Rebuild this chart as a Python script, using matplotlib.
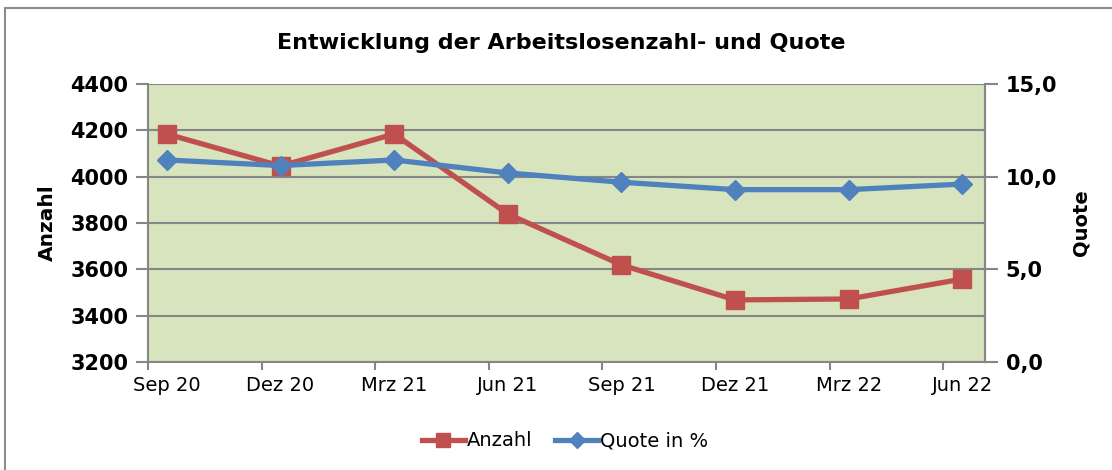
import matplotlib
matplotlib.use("Agg")
import matplotlib.pyplot as plt
from matplotlib.patches import Rectangle
from matplotlib.ticker import FixedLocator, FuncFormatter

categories = ["Sep 20", "Dez 20", "Mrz 21", "Jun 21", "Sep 21", "Dez 21", "Mrz 22", "Jun 22"]
anzahl = [4184, 4046, 4184, 3839, 3619, 3468, 3472, 3558]
quote = [10.9, 10.6, 10.9, 10.2, 9.7, 9.3, 9.3, 9.6]

# months since Sep 2020 (date axis): data mid-month, ticks at quarter starts
months = [3 * i + 0.5 for i in range(len(categories))]
tick_months = [3 * i for i in range(len(categories))]

RED = "#C0504D"
BLUE = "#4F81BD"
BG = "#D7E4BD"
GRID = "#868686"

plt.rcParams['font.family'] = ['DejaVu Sans']

fig = plt.figure(figsize=(11.12, 4.70), dpi=100)
fig.patches.append(Rectangle((5 / 1112, -0.1), 1.2, 1 - 8 / 470 + 0.1, transform=fig.transFigure,
                             fill=False, edgecolor="#8C8C8C", linewidth=1.5))

ax = fig.add_axes([148 / 1112, 1 - 362 / 470, (985 - 148) / 1112, (362 - 84) / 470])
ax.set_facecolor(BG)
ax.set_xlim(0, 22.1)
ax.set_ylim(3200, 4400)
ax.set_yticks([3200, 3400, 3600, 3800, 4000, 4200, 4400])
ax.yaxis.grid(True, color=GRID, linewidth=1.5)
ax.set_axisbelow(True)
ax.spines["top"].set_visible(False)
for s in ["left", "bottom", "right"]:
    ax.spines[s].set_color(GRID)
    ax.spines[s].set_linewidth(1.5)

ax.xaxis.set_major_locator(FixedLocator(tick_months))
ax.xaxis.set_major_formatter(FuncFormatter(lambda v, p: ""))
ax.xaxis.set_minor_locator(FixedLocator(months))
ax.set_xticklabels(categories, minor=True)
ax.tick_params(axis="x", which="major", length=6, width=1.5, color=GRID, direction="out")
ax.tick_params(axis="x", which="minor", length=0, labelsize=14, pad=10)
ax.tick_params(axis="y", length=9, width=1.5, color=GRID, labelsize=15, pad=5)
for t in ax.get_yticklabels():
    t.set_fontweight("bold")

ax.plot(months, anzahl, color=RED, linewidth=3.8, marker="s", markersize=13,
        markerfacecolor=RED, markeredgecolor=RED, label="Anzahl", zorder=3)

ax2 = ax.twinx()
ax2.set_ylim(0, 15)
ax2.set_yticks([0, 5, 10, 15])
ax2.yaxis.set_major_formatter(FuncFormatter(lambda v, p: f"{v:.1f}".replace(".", ",")))
ax2.tick_params(axis="y", length=9, width=1.5, color=GRID, labelsize=15, pad=6)
for t in ax2.get_yticklabels():
    t.set_fontweight("bold")
for s in ["top", "left", "bottom"]:
    ax2.spines[s].set_visible(False)
ax2.spines["right"].set_color(GRID)
ax2.spines["right"].set_linewidth(1.5)
ax2.plot(months, quote, color=BLUE, linewidth=3.8, marker="D", markersize=10,
         markerfacecolor=BLUE, markeredgecolor=BLUE, label="Quote in %", zorder=3)

ax.set_ylabel("Anzahl", fontsize=14.5, fontweight="bold", labelpad=10)
ax2.set_ylabel("Quote", fontsize=14, fontweight="bold", labelpad=10)

fig.text(561 / 1112, 1 - 43 / 470, "Entwicklung der Arbeitslosenzahl- und Quote",
         ha="center", va="center", fontsize=16, fontweight="bold")

h1, l1 = ax.get_legend_handles_labels()
h2, l2 = ax2.get_legend_handles_labels()
fig.legend(h1 + h2, l1 + l2, loc="center", bbox_to_anchor=(565 / 1112, 1 - 441 / 470),
           ncol=2, frameon=False, fontsize=14, handlelength=2.2, handletextpad=0.1,
           columnspacing=1.2, markerscale=0.8)

fig.savefig("out.png", dpi=100)
